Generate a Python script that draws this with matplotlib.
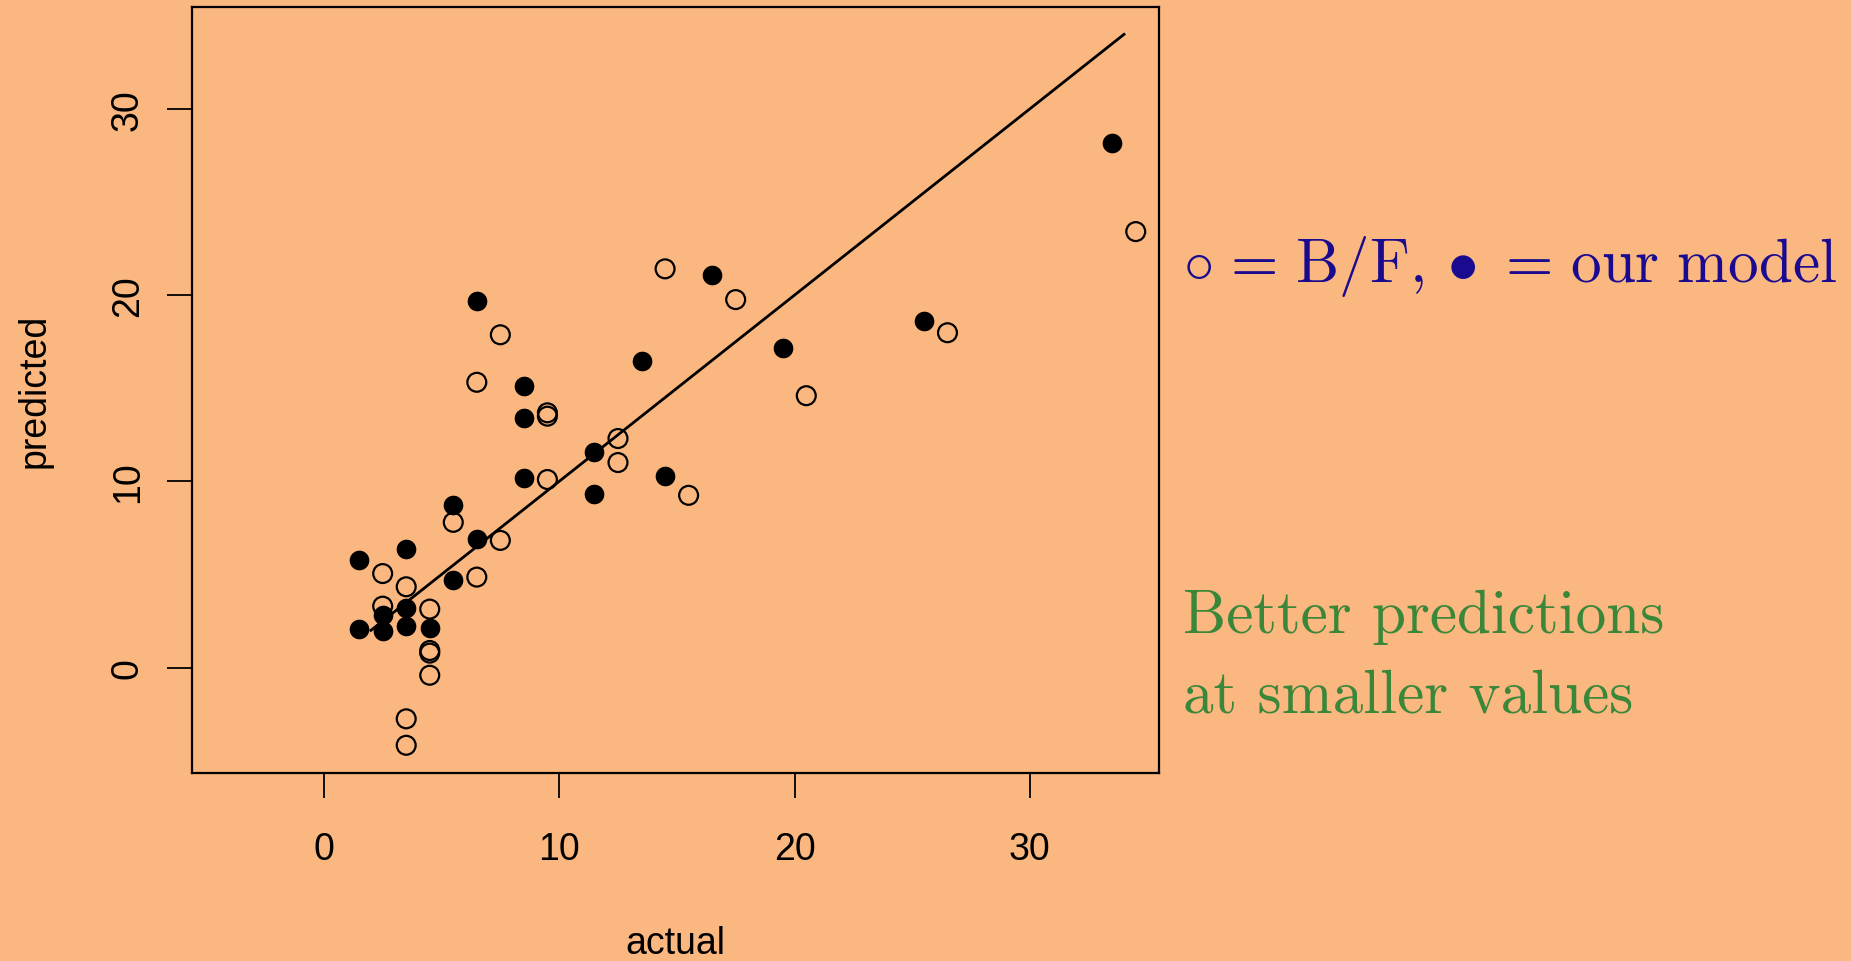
import numpy as np
import matplotlib.pyplot as plt

# jittered actual values and predictions
bf_actual = [2.5, 2.5, 3.5, 3.5, 3.5, 4.5, 4.5, 4.5, 4.5, 5.5, 6.5,
             6.5, 7.5, 7.5, 9.5, 9.5, 9.5, 12.5, 12.5, 14.5, 15.5, 17.5,
             20.5, 26.5, 34.5]
bf_pred = [5.05, 3.3, 4.34, -2.75, -4.17, 3.14, 0.78, 0.92, -0.41, 7.8, 15.32,
           4.86, 17.87, 6.83, 13.5, 13.68, 10.1, 12.3, 11.01, 21.41, 9.25, 19.76,
           14.6, 17.98, 23.41]

our_actual = [1.5, 1.5, 2.5, 2.5, 3.5, 3.5, 3.5, 4.5, 5.5, 5.5, 6.5, 6.5,
              8.5, 8.5, 8.5, 11.5, 11.5, 13.5, 14.5, 16.5, 19.5, 25.5, 33.5]
our_pred = [5.8, 2.08, 2.82, 1.95, 6.36, 3.22, 2.21, 2.13, 8.73, 4.7, 19.71, 6.93,
            15.1, 13.4, 10.18, 11.56, 9.33, 16.47, 10.29, 21.08, 17.16, 18.61, 28.19]

line_x = [2, 34]
xticks = [0, 10, 20, 30]
yticks = [0, 10, 20, 30]

bg = '#fab780'
plt.rcParams['font.family'] = ['Liberation Sans', 'DejaVu Sans']
plt.rcParams['mathtext.fontset'] = 'cm'

fig = plt.figure(figsize=(18.51, 9.62), dpi=100, facecolor=bg)
axes = fig.add_axes([0.1035, 0.1954, 0.5228, 0.7963])
axes.set_facecolor(bg)

axes.scatter(bf_actual, bf_pred, s=185, facecolors='none', edgecolors='black', linewidths=1.6, zorder=3)
axes.scatter(our_actual, our_pred, s=200, color='black', linewidths=0, zorder=3)
axes.plot(line_x, line_x, color='black', lw=2, zorder=2)

axes.set_xlim(-5.62, 35.5)
axes.set_ylim(-5.66, 35.47)
axes.set_xticks(xticks)
axes.set_yticks(yticks)
for s in axes.spines.values():
    s.set_linewidth(1.6)
axes.tick_params(length=18, width=1.3, labelsize=27)
axes.tick_params(axis='x', pad=24)
axes.tick_params(axis='y', pad=15)
for lab in axes.get_yticklabels():
    lab.set_rotation(90)
    lab.set_va('center')

axes.set_xlabel('actual', fontsize=27)
axes.set_ylabel('predicted', fontsize=27)
axes.xaxis.set_label_coords(0.5, -0.198)
axes.yaxis.set_label_coords(-0.144, 0.5)

x_txt = 1183 / 1851
fig.text(x_txt, 1 - 281.6 / 962,
         r'$\circ\hspace{0.12}=\hspace{0.12}\mathrm{B/F},\bullet\hspace{0.12}=\hspace{0.12}\mathrm{our\ model}$',
         color='#1a0a8f', fontsize=44, ha='left', va='baseline')
fig.text(x_txt, 1 - 633 / 962, 'Better predictions', family='cmr10',
         color='#3a873a', fontsize=44, ha='left', va='baseline')
fig.text(x_txt, 1 - 713 / 962, 'at smaller values', family='cmr10',
         color='#3a873a', fontsize=44, ha='left', va='baseline')

fig.savefig('out.png', dpi=100, facecolor=bg)
